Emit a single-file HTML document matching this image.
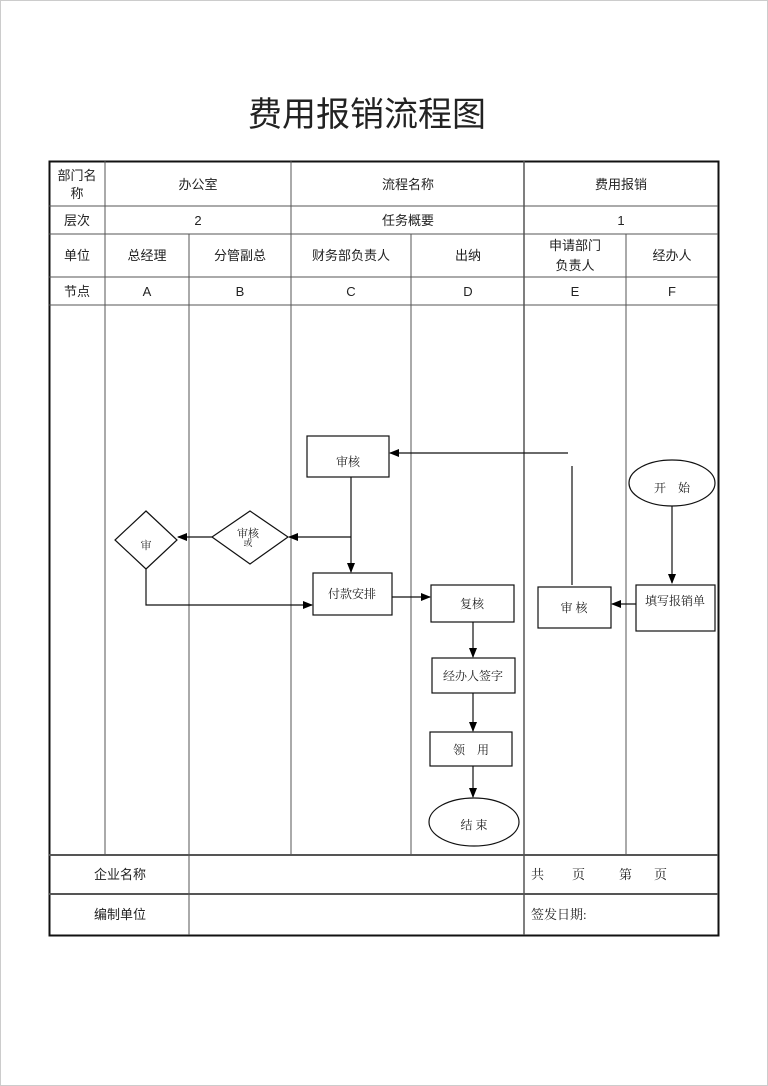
<!DOCTYPE html>
<html><head><meta charset="utf-8"><style>
html,body{margin:0;padding:0;background:#fff}
svg{display:block}
text{font-family:"Liberation Sans","Noto Sans CJK SC",sans-serif;fill:#222}
.s{font-family:"Liberation Serif","Noto Serif CJK SC",serif}
</style></head><body>
<svg width="768" height="1086" viewBox="0 0 768 1086" xmlns="http://www.w3.org/2000/svg">
<defs><marker id="a" markerWidth="10" markerHeight="8" refX="9" refY="4" orient="auto" markerUnits="userSpaceOnUse"><path d="M0,0 L10,4 L0,8 z" fill="#000"/></marker></defs>
<rect x="0.5" y="0.5" width="767" height="1085" fill="none" stroke="#ccc"/>
<text x="367" y="126" font-size="34" text-anchor="middle">费用报销流程图</text>
<g stroke="#555" stroke-width="1" fill="none">
<rect x="49.5" y="161.5" width="669" height="774" stroke="#111" stroke-width="2"/>
<line x1="49" y1="206" x2="718" y2="206"/>
<line x1="49" y1="234" x2="718" y2="234"/>
<line x1="49" y1="277" x2="718" y2="277"/>
<line x1="49" y1="305" x2="718" y2="305"/>
<line x1="49" y1="855" x2="718" y2="855" stroke-width="2"/>
<line x1="49" y1="894" x2="718" y2="894" stroke-width="2"/>
<line x1="105" y1="161" x2="105" y2="855"/>
<line x1="291" y1="161" x2="291" y2="855"/>
<line x1="524" y1="161" x2="524" y2="935" stroke-width="1.5"/>
<line x1="189" y1="234" x2="189" y2="935"/>
<line x1="411" y1="234" x2="411" y2="855"/>
<line x1="626" y1="234" x2="626" y2="855"/>
</g>
<g font-size="13" text-anchor="middle">
<text x="77" y="180">部门名</text><text x="77" y="198">称</text>
<text x="198" y="189">办公室</text><text x="408" y="189">流程名称</text><text x="621" y="189">费用报销</text>
<text x="77" y="225">层次</text><text x="198" y="225">2</text><text x="408" y="225">任务概要</text><text x="621" y="225">1</text>
<text x="77" y="260">单位</text><text x="147" y="260">总经理</text><text x="240" y="260">分管副总</text><text x="351" y="260">财务部负责人</text><text x="468" y="260">出纳</text>
<text x="575" y="250">申请部门</text><text x="575" y="270">负责人</text><text x="672" y="260">经办人</text>
<text x="77" y="296">节点</text><text x="147" y="296">A</text><text x="240" y="296">B</text><text x="351" y="296">C</text><text x="468" y="296">D</text><text x="575" y="296">E</text><text x="672" y="296">F</text>
<text x="120" y="879">企业名称</text><text x="120" y="919">编制单位</text>
</g>
<g font-size="13" class="s">
<text x="531" y="879" class="s">共</text><text x="572" y="879" class="s">页</text><text x="619" y="879" class="s">第</text><text x="654" y="879" class="s">页</text>
<text x="531" y="919" class="s">签发日期:</text>
</g>
<g stroke="#111" stroke-width="1.2" fill="#fff">
<rect x="307" y="436" width="82" height="41"/>
<ellipse cx="672" cy="483" rx="43" ry="23"/>
<rect x="636" y="585" width="79" height="46"/>
<rect x="538" y="587" width="73" height="41"/>
<polygon points="250,511 288,537 250,564 212,537"/>
<polygon points="146,511 177,540 146,569 115,540"/>
<rect x="313" y="573" width="79" height="42"/>
<rect x="431" y="585" width="83" height="37"/>
<rect x="432" y="658" width="83" height="35"/>
<rect x="430" y="732" width="82" height="34"/>
<ellipse cx="474" cy="822" rx="45" ry="24"/>
</g>
<g stroke="#111" stroke-width="1.2" fill="none">
<line x1="568" y1="453" x2="390" y2="453" marker-end="url(#a)"/>
<line x1="572" y1="466" x2="572" y2="585"/>
<line x1="672" y1="506" x2="672" y2="583" marker-end="url(#a)"/>
<line x1="636" y1="604" x2="612" y2="604" marker-end="url(#a)"/>
<line x1="351" y1="477" x2="351" y2="572" marker-end="url(#a)"/>
<line x1="351" y1="537" x2="289" y2="537" marker-end="url(#a)"/>
<line x1="212" y1="537" x2="178" y2="537" marker-end="url(#a)"/>
<polyline points="146,569 146,605 312,605" marker-end="url(#a)"/>
<line x1="392" y1="597" x2="430" y2="597" marker-end="url(#a)"/>
<line x1="473" y1="622" x2="473" y2="657" marker-end="url(#a)"/>
<line x1="473" y1="693" x2="473" y2="731" marker-end="url(#a)"/>
<line x1="473" y1="766" x2="473" y2="797" marker-end="url(#a)"/>
</g>
<g font-size="12" text-anchor="middle" class="s">
<text x="348" y="466" class="s">审核</text>
<text x="672" y="492" class="s">开　始</text>
<text x="675" y="605" class="s">填写报销单</text>
<text x="574" y="612" class="s">审 核</text>
<text x="248" y="537" font-size="11" class="s">审核</text>
<text x="248" y="546" font-size="9" class="s">或</text>
<text x="146" y="549" font-size="11" class="s">审</text>
<text x="352" y="598" class="s">付款安排</text>
<text x="472" y="608" class="s">复核</text>
<text x="473" y="680" class="s">经办人签字</text>
<text x="471" y="754" class="s">领　用</text>
<text x="474" y="829" class="s">结 束</text>
</g>
</svg>
</body></html>
